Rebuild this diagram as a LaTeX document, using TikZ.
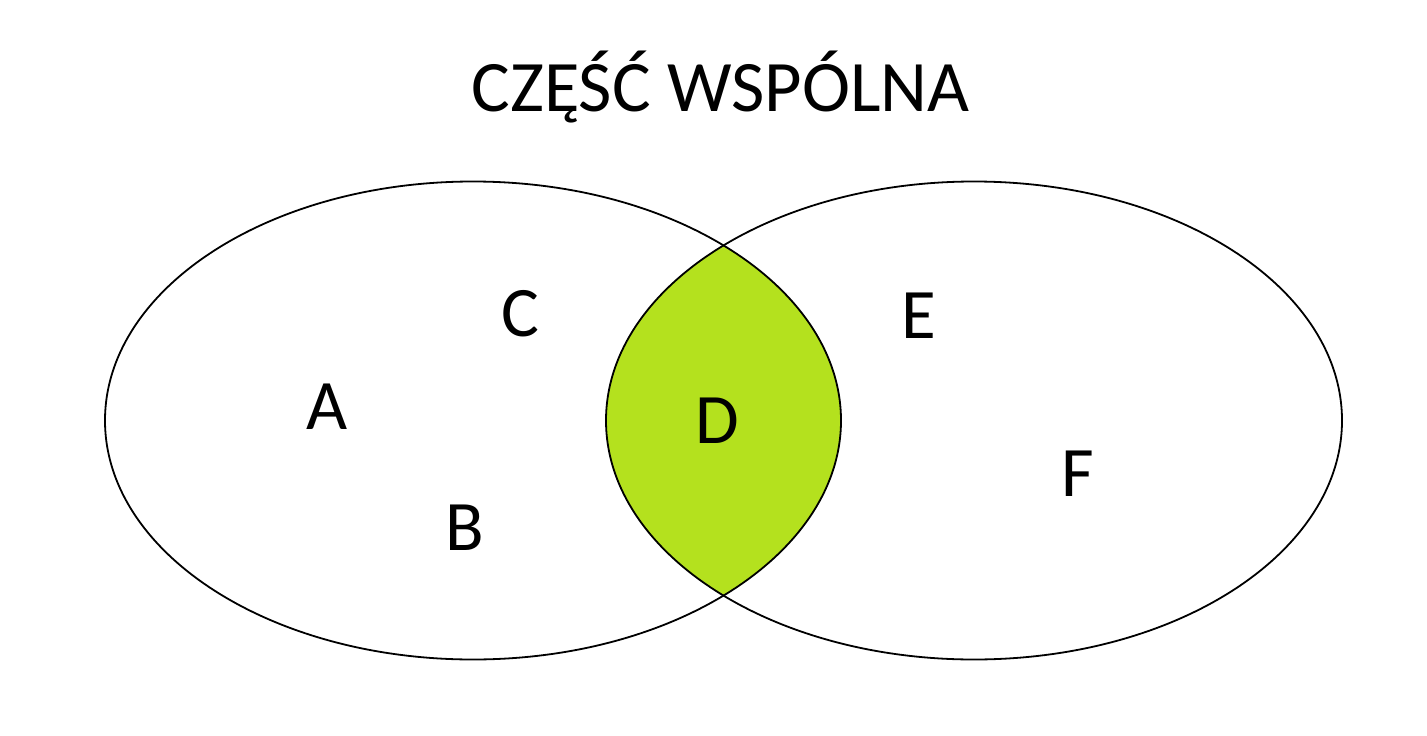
\documentclass[tikz,border=0pt]{standalone}
\usepackage{fontspec}
\setmainfont{Carlito}
\definecolor{lensgreen}{RGB}{180,225,30}
\tikzset{
  setline/.style={draw=black, line width=1.8pt},
  letter/.style={inner sep=0pt, font=\fontsize{71}{71}\selectfont},
  titletext/.style={inner sep=0pt, anchor=base, font=\fontsize{72.5}{72.5}\selectfont}
}
\begin{document}
\begin{tikzpicture}[x=1pt,y=-1pt]
  \useasboundingbox[fill=white] (0,0) rectangle (1427,736);
  % intersection
  \begin{scope}
    \clip (473,420.5) ellipse [x radius=368, y radius=239];
    \fill[lensgreen] (974,420.5) ellipse [x radius=368, y radius=239];
  \end{scope}
  \draw[setline] (473,420.5) ellipse [x radius=368, y radius=239];
  \draw[setline] (974,420.5) ellipse [x radius=368, y radius=239];
  % title
  \node[titletext] (title) at (720.5,111.5) {CZĘŚĆ WSPÓLNA};
  % letters
  \node[letter] (A) at (327,407) {A};
  \node[letter] (B) at (465,527.5) {B};
  \node[letter] (C) at (520,314) {C};
  \node[letter] (D) at (717,421) {D};
  \node[letter] (E) at (919,316) {E};
  \node[letter] (F) at (1078,474) {F};
\end{tikzpicture}
\end{document}
